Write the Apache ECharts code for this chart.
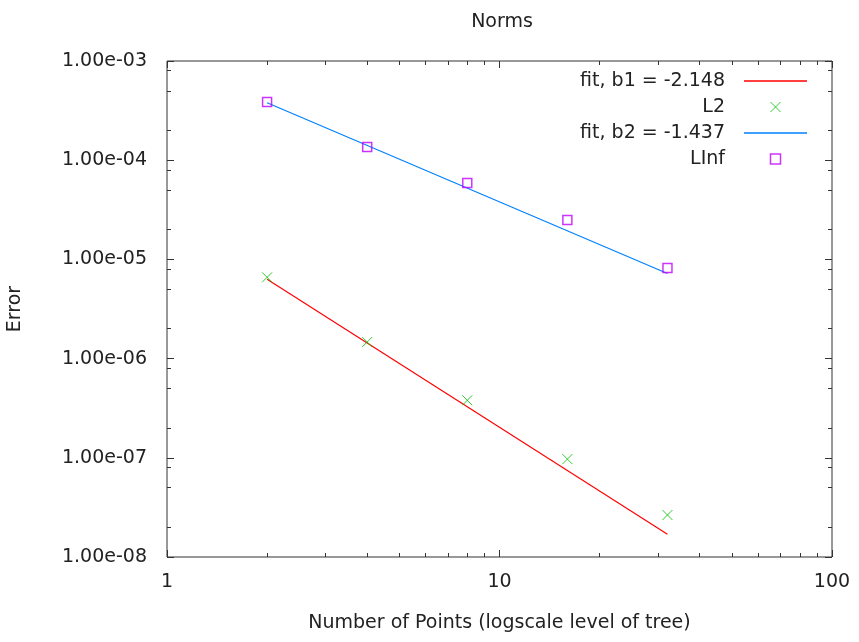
<!DOCTYPE html>
<html>
<head>
<meta charset="utf-8">
<script src="https://cdn.jsdelivr.net/npm/echarts@6/dist/echarts.min.js"></script>
<style>
html, body { margin: 0; padding: 0; background: #fff; }
#main { width: 859px; height: 642px; }
</style>
</head>
<body>
<div id="main"></div>
<script>
// tree levels (x) and measured errors
const levels = [2, 4, 8, 16, 32]
const l2Error = [6.6e-6, 1.47e-6, 3.8e-7, 9.7e-8, 2.65e-8]
const lInfError = [3.85e-4, 1.36e-4, 5.9e-5, 2.5e-5, 8.2e-6]

// fitted power laws, end points
const fitX = [2, 32]
const fitB1 = [6.3e-6, 1.7e-8]
const fitB2 = [3.8e-4, 7.2e-6]

// ticks
const xMajor = [1, 10, 100]
const xMinor = [2, 3, 4, 5, 6, 7, 8, 9, 20, 30, 40, 50, 60, 70, 80, 90]
const yMajor = [1e-8, 1e-7, 1e-6, 1e-5, 1e-4, 1e-3]
const yMinor = [2e-8, 5e-8, 8e-8, 2e-7, 5e-7, 8e-7, 2e-6, 5e-6, 8e-6,
  2e-5, 5e-5, 8e-5, 2e-4, 5e-4, 8e-4]

const FONT = 'DejaVu Sans'
const FS = 19
const TXT = '#222'
const AX = '#333'

function pairs(xs, ys) {
  return xs.map((x, i) => [x, ys[i]])
}

function expLabel(v) {
  // 1.00e-03 style
  return v.toExponential(2).replace(/e([+-])(\d)$/, 'e$10$2')
}

function xAx(grid, pos, ticks, len, withLabel) {
  return {
    type: 'log', logBase: 10, gridIndex: grid, position: pos,
    min: 1, max: 100,
    axisLine: { show: false },
    splitLine: { show: false },
    axisTick: { show: true, inside: true, length: len, customValues: ticks,
      lineStyle: { color: AX, width: 1 } },
    axisLabel: withLabel ? {
      show: true, customValues: xMajor, margin: 16,
      fontFamily: FONT, fontSize: FS, color: TXT,
      formatter: v => String(Math.round(v))
    } : { show: false },
    name: withLabel ? 'Number of Points (logscale level of tree)' : '',
    nameLocation: 'middle', nameGap: 57,
    nameTextStyle: { fontFamily: FONT, fontSize: FS, color: TXT }
  }
}

function yAx(grid, pos, ticks, len, withLabel) {
  return {
    type: 'log', logBase: 10, gridIndex: grid, position: pos,
    min: 1e-8, max: 1e-3,
    axisLine: { show: false },
    splitLine: { show: false },
    axisTick: { show: true, inside: true, length: len, customValues: ticks,
      lineStyle: { color: AX, width: 1 } },
    axisLabel: withLabel ? {
      show: true, customValues: yMajor, margin: 20,
      fontFamily: FONT, fontSize: FS, color: TXT,
      formatter: expLabel
    } : { show: false },
    name: withLabel ? 'Error' : '',
    nameLocation: 'middle', nameGap: 142, nameRotate: 90,
    nameTextStyle: { fontFamily: FONT, fontSize: FS, color: TXT }
  }
}

const chart = echarts.init(document.getElementById('main'))
const gridRect = { left: 167, right: 27, top: 61, bottom: 85, containLabel: false, outerBoundsMode: 'none' }

const option = {
  backgroundColor: '#fff',
  animation: false,
  title: {
    text: 'Norms',
    left: 497, top: 8, textAlign: 'center',
    textStyle: { fontFamily: FONT, fontSize: FS, fontWeight: 'normal', color: TXT }
  },
  grid: [
    Object.assign({ show: true, borderColor: AX, borderWidth: 1 }, gridRect),
    Object.assign({ show: false }, gridRect)
  ],
  legend: {
    orient: 'vertical', right: 47, top: 66, align: 'right',
    itemWidth: 63, itemHeight: 10, itemGap: 6,
    selectedMode: false,
    textStyle: { fontFamily: FONT, fontSize: FS, color: TXT, width: 180, align: 'right',
      lineHeight: 20, padding: [0, 14, 0, 0] },
    data: [
      { name: 'fit, b1 = -2.148', icon: 'path://M0,0H63V1.6H0Z',
        itemStyle: { color: '#ff0000', borderWidth: 0 } },
      { name: 'L2', icon: 'path://M0,0L10,10M10,0L0,10',
        itemStyle: { color: 'transparent', borderColor: '#00c000', borderWidth: 1 } },
      { name: 'fit, b2 = -1.437', icon: 'path://M0,0H63V1.6H0Z',
        itemStyle: { color: '#0080ff', borderWidth: 0 } },
      { name: 'LInf', icon: 'path://M0,0H10V10H0Z',
        itemStyle: { color: 'transparent', borderColor: '#c000ff', borderWidth: 1.5 } }
    ]
  },
  xAxis: [
    xAx(0, 'bottom', xMajor, 7, true),
    xAx(0, 'top', xMajor, 7, false),
    xAx(1, 'bottom', xMinor, 4, false),
    xAx(1, 'top', xMinor, 4, false)
  ],
  yAxis: [
    yAx(0, 'left', yMajor, 7, true),
    yAx(0, 'right', yMajor, 7, false),
    yAx(1, 'left', yMinor, 4, false),
    yAx(1, 'right', yMinor, 4, false)
  ],
  series: [
    {
      name: 'fit, b1 = -2.148', type: 'line', xAxisIndex: 0, yAxisIndex: 0,
      symbol: 'none', color: '#ff0000',
      lineStyle: { color: '#ff0000', width: 1.2 },
      data: pairs(fitX, fitB1)
    },
    {
      name: 'L2', type: 'scatter', xAxisIndex: 0, yAxisIndex: 0, z: 5,
      symbol: 'path://M0,0L10,10M10,0L0,10', symbolSize: 10, color: '#00c000',
      itemStyle: { color: 'transparent', borderColor: '#00c000', borderWidth: 1 },
      data: pairs(levels, l2Error)
    },
    {
      name: 'fit, b2 = -1.437', type: 'line', xAxisIndex: 0, yAxisIndex: 0,
      symbol: 'none', color: '#0080ff',
      lineStyle: { color: '#0080ff', width: 1.2 },
      data: pairs(fitX, fitB2)
    },
    {
      name: 'LInf', type: 'scatter', xAxisIndex: 0, yAxisIndex: 0, z: 5,
      symbol: 'path://M0,0H10V10H0Z', symbolSize: 9, color: '#c000ff',
      itemStyle: { color: 'transparent', borderColor: '#c000ff', borderWidth: 1.5 },
      data: pairs(levels, lInfError)
    }
  ]
}

chart.setOption(option)
</script>
</body>
</html>
